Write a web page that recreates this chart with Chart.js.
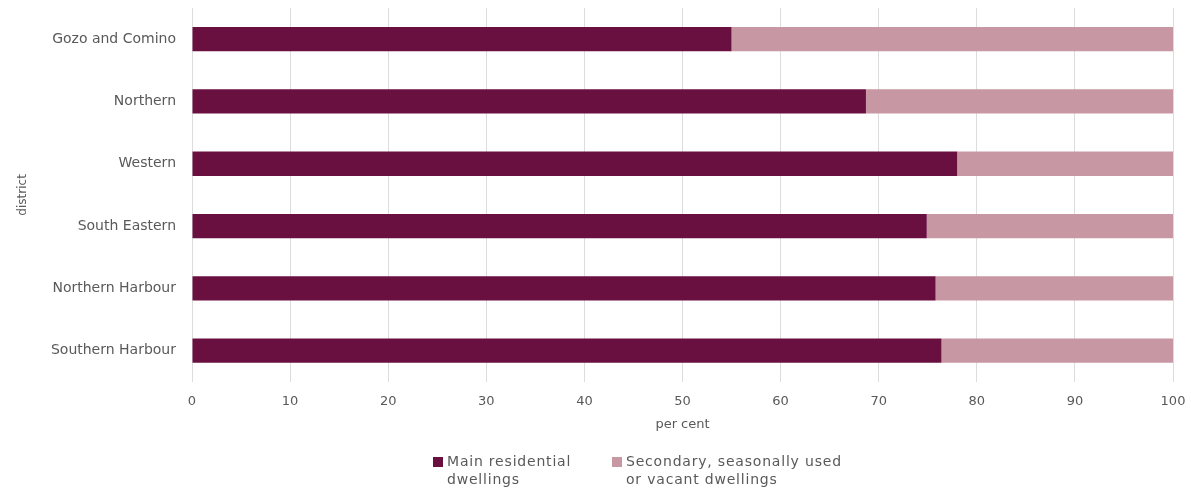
<!DOCTYPE html>
<html>
<head>
<meta charset="utf-8">
<script src="https://cdn.jsdelivr.net/npm/chart.js@4/dist/chart.umd.min.js"></script>
<style>
    body { margin: 0; background: #fff; }
    #wrap { position: relative; width: 1191px; height: 488px; }
    #legend { position: absolute; top: 452px; left: 0; width: 1191px; font-family: "DejaVu Sans", sans-serif; font-size: 14px; color: #595959; letter-spacing: 0.8px; }
    .item { position: absolute; top: 0; line-height: 18px; }
    .box { position: absolute; left: 0; top: 5px; width: 10px; height: 10px; }
    .txt { margin-left: 14px; }
</style>
</head>
<body>
<div id="wrap">
    <canvas id="chart" width="1191" height="488"></canvas>
    <div id="legend"></div>
</div>
<script>
const districts = ['Gozo and Comino', 'Northern', 'Western', 'South Eastern', 'Northern Harbour', 'Southern Harbour'];
const mainDwellings = [55.0, 68.7, 78.0, 74.9, 75.8, 76.4];
const otherDwellings = [45.0, 31.3, 22.0, 25.1, 24.2, 23.6];
const seriesNames = [['Main residential', 'dwellings'], ['Secondary, seasonally used', 'or vacant dwellings']];
const seriesColors = ['#6a1040', '#c797a3'];
const xTicks = [0, 10, 20, 30, 40, 50, 60, 70, 80, 90, 100];

Chart.defaults.font.family = '"DejaVu Sans", sans-serif';
Chart.defaults.color = '#595959';

document.addEventListener('DOMContentLoaded', () => {
    renderChart();
    renderLegend();
});

// Stacked bars
function renderChart() {
    const ctx = document.getElementById('chart').getContext('2d');
    new Chart(ctx, {
        type: 'bar',
        data: {
            labels: districts,
            datasets: [mainDwellings, otherDwellings].map((d, i) => ({
                label: seriesNames[i].join(' '),
                data: d,
                backgroundColor: seriesColors[i],
                borderWidth: 0,
                barPercentage: 0.39,
                categoryPercentage: 1
            }))
        },
        options: {
            indexAxis: 'y',
            responsive: false,
            animation: false,
            layout: { padding: { top: 8, right: 18, bottom: 56, left: 12 } },
            plugins: { legend: { display: false }, tooltip: { enabled: false } },
            scales: {
                x: {
                    stacked: true,
                    min: 0,
                    max: 100,
                    afterBuildTicks: scale => { scale.ticks = xTicks.map(v => ({ value: v })); },
                    afterFit: scale => { scale.paddingLeft = 0; scale.paddingRight = 0; },
                    grid: { color: '#dcdcdc', drawTicks: false },
                    border: { display: false },
                    ticks: { padding: 12, font: { size: 13 } },
                    title: { display: true, text: 'per cent', font: { size: 13 }, padding: { top: -5, bottom: 0 } }
                },
                y: {
                    stacked: true,
                    grid: { display: false },
                    border: { display: false },
                    ticks: { padding: 8, font: { size: 14 } },
                    title: { display: true, text: 'district', font: { size: 12 } },
                    afterFit: scale => {
                        scale.width = 180;
                        scale.paddingTop = 0;
                        scale.paddingBottom = 0;
                    }
                }
            }
        }
    });
}

// Legend (two-line labels)
function renderLegend() {
    const legend = document.getElementById('legend');
    const lefts = [433, 612];
    seriesNames.forEach((lines, i) => {
        const item = document.createElement('div');
        item.className = 'item';
        item.style.left = lefts[i] + 'px';
        const box = document.createElement('span');
        box.className = 'box';
        box.style.background = seriesColors[i];
        const txt = document.createElement('div');
        txt.className = 'txt';
        txt.innerHTML = lines.join('<br>');
        item.appendChild(box);
        item.appendChild(txt);
        legend.appendChild(item);
    });
}
</script>
</body>
</html>
